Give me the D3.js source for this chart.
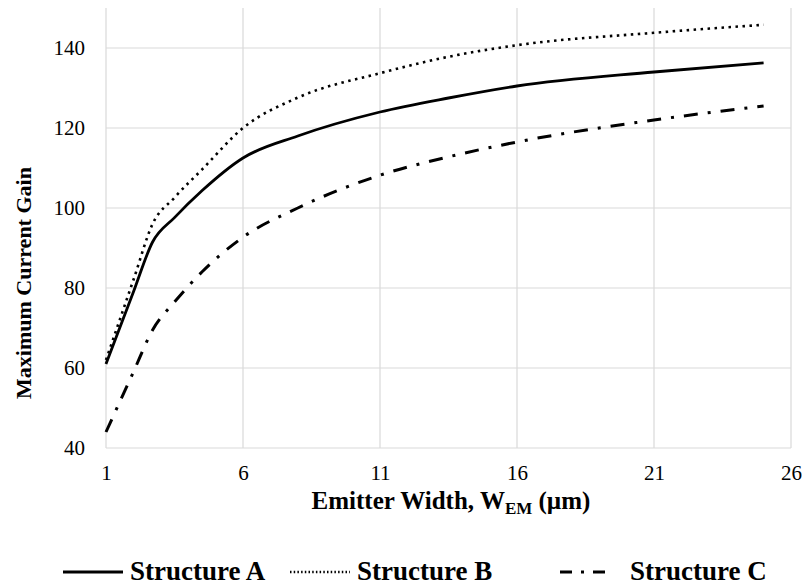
<!DOCTYPE html>
<html>
<head>
<meta charset="utf-8">
<script src="https://cdn.jsdelivr.net/npm/d3@7"></script>
<style>
  body { margin: 0; background: #fff; }
  svg text { font-family: "Liberation Serif", "Times New Roman", "DejaVu Serif", serif !important; fill: #000; }
</style>
</head>
<body>
<div id="chart"></div>
<script>
// emitter width in um
const widths = [1, 2, 2.7, 3.5, 4.5, 6, 8, 11, 13.5, 16, 21, 25];
const structA = [61, 79, 91.5, 97.6, 104.3, 112.5, 118, 124, 127.5, 130.5, 134, 136.3];
const structB = [62, 82, 96, 102.6, 109.6, 120, 127.6, 133.7, 137.8, 140.7, 143.8, 145.8];
const structC = [44, 59, 69.5, 76.5, 84, 92.7, 100, 108.2, 112.8, 116.5, 122, 125.5];
const xTicks = [1, 6, 11, 16, 21, 26];
const yTicks = [40, 60, 80, 100, 120, 140];

const width = 806, height = 585;
const margin = {left: 106, right: 15, top: 8, bottom: 137};

const svg = d3.select("#chart").append("svg")
  .attr("width", width)
  .attr("height", height);

const x = d3.scaleLinear().domain([1, 26]).range([margin.left, width - margin.right]);
const y = d3.scaleLinear().domain([40, 150]).range([height - margin.bottom, margin.top]);

// gridlines
svg.append("g")
  .selectAll("line.v")
  .data(xTicks)
  .enter().append("line")
    .attr("x1", d => x(d)).attr("x2", d => x(d))
    .attr("y1", y(150)).attr("y2", y(40))
    .attr("stroke", "#d9d9d9").attr("stroke-width", 1.2);

svg.append("g")
  .selectAll("line.h")
  .data(yTicks)
  .enter().append("line")
    .attr("x1", x(1)).attr("x2", x(26))
    .attr("y1", d => y(d)).attr("y2", d => y(d))
    .attr("stroke", "#d9d9d9").attr("stroke-width", 1.2);

// axes (labels only)
const xAxis = svg.append("g")
  .attr("transform", `translate(0, ${y(40)})`)
  .call(d3.axisBottom(x).tickValues(xTicks).tickSize(0).tickPadding(17));
xAxis.select(".domain").remove();
xAxis.selectAll("text").style("font-size", "21px");

const yAxis = svg.append("g")
  .attr("transform", `translate(${x(1)}, 0)`)
  .call(d3.axisLeft(y).tickValues(yTicks).tickSize(0).tickPadding(21));
yAxis.select(".domain").remove();
yAxis.selectAll("text").style("font-size", "21px");

// series
const series = [
  {name: "Structure A", values: structA, dash: null, w: 2.8},
  {name: "Structure B", values: structB, dash: "2.5 4.5", w: 2.6},
  {name: "Structure C", values: structC, dash: "14 10 3 10", w: 3},
];

const line = d3.line()
  .x((d, i) => x(widths[i]))
  .y(d => y(d))
  .curve(d3.curveMonotoneX);

series.forEach(s => {
  svg.append("path")
    .datum(s.values)
    .attr("d", line)
    .attr("fill", "none")
    .attr("stroke", "#000")
    .attr("stroke-width", s.w)
    .attr("stroke-dasharray", s.dash);
});

// axis titles
const xt = svg.append("text")
  .attr("x", 451).attr("y", 509)
  .attr("text-anchor", "middle")
  .style("font-size", "25px").style("font-weight", "bold");
xt.append("tspan").text("Emitter Width, W");
xt.append("tspan").attr("dy", 5).style("font-size", "17px").text("EM");
xt.append("tspan").attr("dy", -5).text(" (µm)");

svg.append("text")
  .attr("transform", "translate(31, 283) rotate(-90)")
  .attr("text-anchor", "middle")
  .style("font-size", "22px").style("font-weight", "bold")
  .text("Maximum Current Gain");

// legend
const legendX = [63, 290, 560];
const legend = svg.append("g");
series.forEach((s, i) => {
  legend.append("line")
    .attr("x1", legendX[i]).attr("x2", legendX[i] + (i === 2 ? 50 : 60))
    .attr("y1", 572).attr("y2", 572)
    .attr("stroke", "#000")
    .attr("stroke-width", s.w)
    .attr("stroke-dasharray", i === 1 ? "1.5 2.2" : (i === 2 ? "12 9 3 9" : null));
  legend.append("text")
    .attr("x", legendX[i] + (i === 2 ? 70 : 67))
    .attr("y", 580)
    .style("font-size", "27px").style("font-weight", "bold")
    .text(s.name);
});
</script>
</body>
</html>
